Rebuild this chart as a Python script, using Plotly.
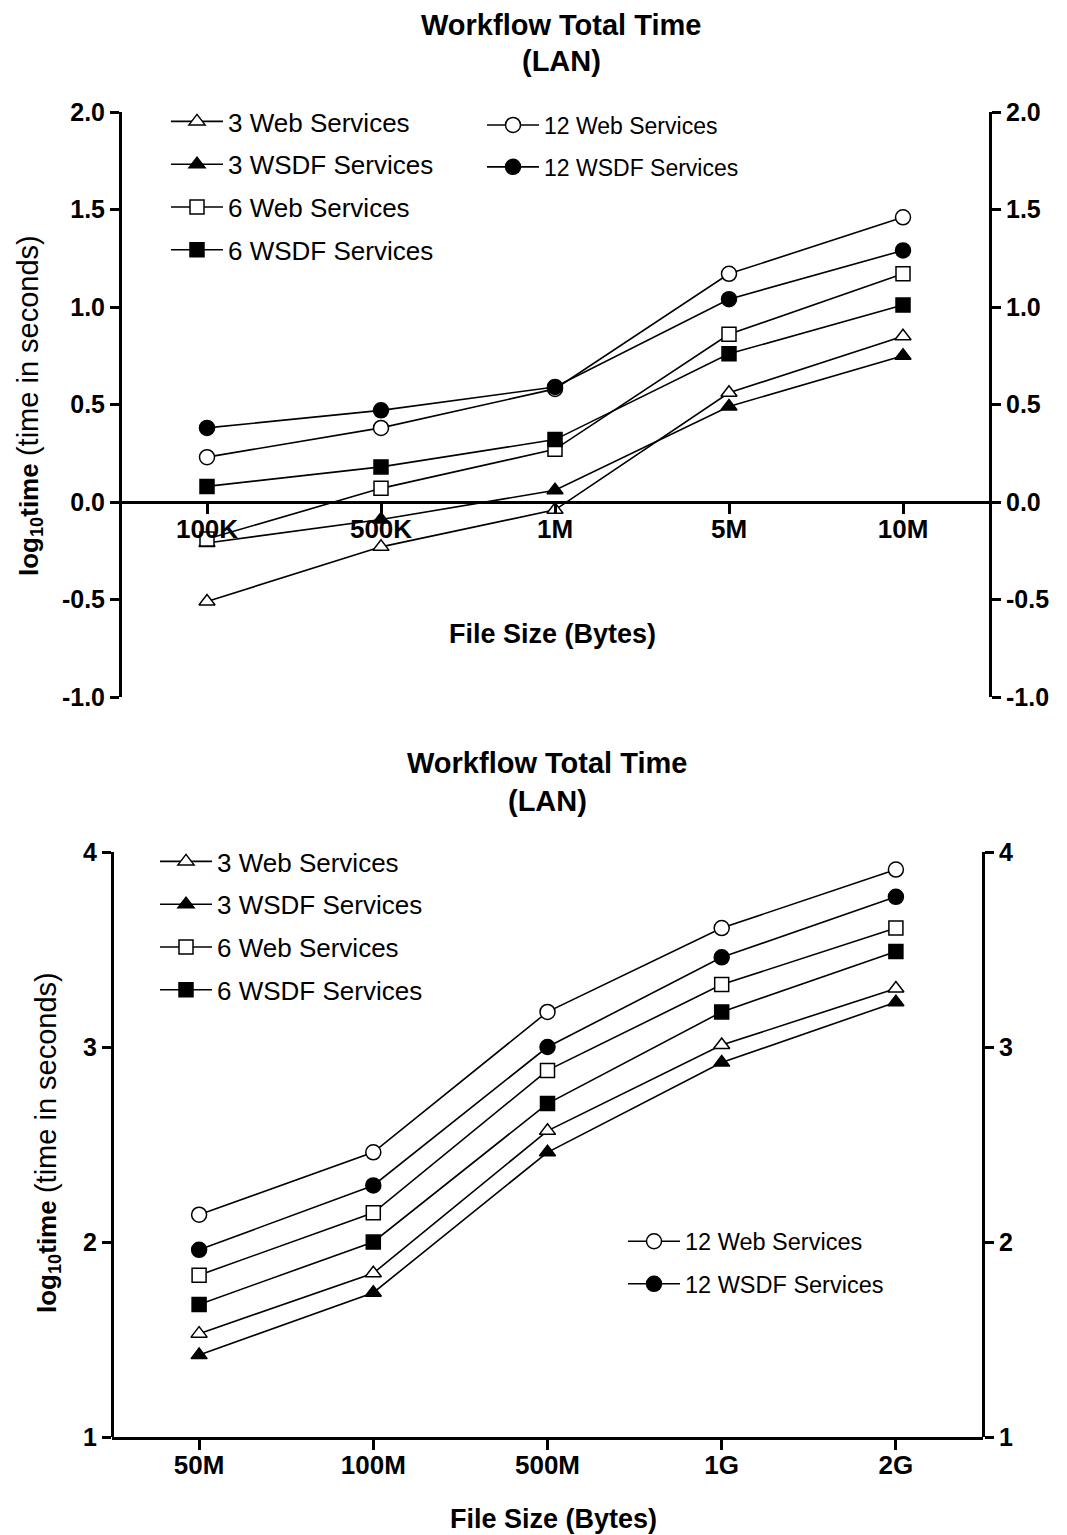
import plotly.graph_objects as go

# Browser body margin is 8px; build the figure so that it fits inside it.
OFF = 8
W, H = 1067 - OFF, 1535 - OFF

# ---------------- data ----------------
top_cats = ["100K", "500K", "1M", "5M", "10M"]
top_3web = [-0.51, -0.23, -0.04, 0.56, 0.85]
top_3wsdf = [-0.21, -0.09, 0.06, 0.49, 0.75]
top_6web = [-0.19, 0.07, 0.27, 0.86, 1.17]
top_6wsdf = [0.08, 0.18, 0.32, 0.76, 1.01]
top_12web = [0.23, 0.38, 0.58, 1.17, 1.46]
top_12wsdf = [0.38, 0.47, 0.59, 1.04, 1.29]
top_tickvals = [-1.0, -0.5, 0.0, 0.5, 1.0, 1.5, 2.0]
top_ticktext = ["-1.0", "-0.5", "0.0", "0.5", "1.0", "1.5", "2.0"]

bot_cats = ["50M", "100M", "500M", "1G", "2G"]
bot_3web = [1.53, 1.84, 2.57, 3.01, 3.30]
bot_3wsdf = [1.42, 1.74, 2.46, 2.92, 3.23]
bot_6web = [1.83, 2.15, 2.88, 3.32, 3.61]
bot_6wsdf = [1.68, 2.00, 2.71, 3.18, 3.49]
bot_12web = [2.14, 2.46, 3.18, 3.61, 3.91]
bot_12wsdf = [1.96, 2.29, 3.00, 3.46, 3.77]
bot_tickvals = [1, 2, 3, 4]

series_names = ["3 Web Services", "3 WSDF Services", "6 Web Services",
                "6 WSDF Services", "12 Web Services", "12 WSDF Services"]
symbols = ["triangle-up", "triangle-up", "square", "square", "circle", "circle"]
fills = ["white", "black", "white", "black", "white", "black"]

FONT = "Arial, Liberation Sans, Helvetica, sans-serif"

def px_x(p):
    return (p - OFF) / W

def px_y(p):
    return 1 - (p - OFF) / H

fig = go.Figure()

top_vals = [top_3web, top_3wsdf, top_6web, top_6wsdf, top_12web, top_12wsdf]
bot_vals = [bot_3web, bot_3wsdf, bot_6web, bot_6wsdf, bot_12web, bot_12wsdf]

def marker(i):
    return dict(symbol=symbols[i], size=15 if symbols[i] == "circle" else 14,
                color=fills[i], line=dict(color="black", width=1.5))

for i, (name, vals) in enumerate(zip(series_names, top_vals)):
    fig.add_trace(go.Scatter(
        x=top_cats, y=vals, name=name, mode="lines+markers",
        xaxis="x", yaxis="y" if i < 4 else "y2",
        line=dict(color="black", width=1.6), marker=marker(i),
        legend="legend" if i < 4 else "legend2",
        legendgroup="t%d" % i,
    ))

for i, (name, vals) in enumerate(zip(series_names, bot_vals)):
    fig.add_trace(go.Scatter(
        x=bot_cats, y=vals, name=name, mode="lines+markers",
        xaxis="x2", yaxis="y3" if i < 4 else "y4",
        line=dict(color="black", width=1.6), marker=marker(i),
        legend="legend3" if i < 4 else "legend4",
        legendgroup="b%d" % i,
    ))

# domains (reference pixel positions)
tx0, tx1 = px_x(120), px_x(990)
ty0, ty1 = px_y(697), px_y(112)
bx0, bx1 = px_x(112), px_x(983)
by0, by1 = px_y(1437), px_y(852)

def ax(**kw):
    d = dict(showline=True, linecolor="black", linewidth=3,
             ticks="outside", tickcolor="black", tickwidth=3, ticklen=9,
             showgrid=False, zeroline=False, automargin=False,
             tickfont=dict(family=FONT, size=25, color="black", weight="bold"))
    d.update(kw)
    return d

xtickfont = dict(family=FONT, size=26, color="black", weight="bold")

layout = dict(
    width=W, height=H,
    template="none",
    margin=dict(l=0, r=0, t=0, b=0, pad=0),
    paper_bgcolor="white", plot_bgcolor="white",
    font=dict(family=FONT, color="black"),
    showlegend=True,
    xaxis=ax(domain=[tx0, tx1], anchor="free", position=px_y(502),
             type="category", range=[-0.5, 4.5], ticklen=10, tickfont=xtickfont,
             ticklabelstandoff=-7),
    yaxis=ax(domain=[ty0, ty1], anchor="free", position=tx0,
             range=[-1.0, 2.0], tickvals=top_tickvals, ticktext=top_ticktext),
    yaxis2=ax(domain=[ty0, ty1], anchor="free", position=tx1, overlaying="y",
              side="right", range=[-1.0, 2.0],
              tickvals=top_tickvals, ticktext=top_ticktext),
    xaxis2=ax(domain=[bx0, bx1], anchor="y3",
              type="category", range=[-0.5, 4.5], ticklen=10, tickfont=xtickfont,
              ticklabelstandoff=-7),
    yaxis3=ax(domain=[by0, by1], anchor="free", position=bx0,
              range=[1, 4], tickvals=bot_tickvals),
    yaxis4=ax(domain=[by0, by1], anchor="free", position=bx1, overlaying="y3",
              side="right", range=[1, 4], tickvals=bot_tickvals),
)

def legend_cfg(xp, yp, size, gap):
    return dict(x=px_x(xp), y=px_y(yp), xanchor="left", yanchor="top",
                bgcolor="rgba(0,0,0,0)", borderwidth=0,
                font=dict(family=FONT, size=size, color="black"),
                itemwidth=52, tracegroupgap=gap, traceorder="grouped")

layout["legend"] = legend_cfg(166, 98, 26, 6)
layout["legend2"] = legend_cfg(482, 103.5, 23, 9)
layout["legend3"] = legend_cfg(155, 838, 26, 6)
layout["legend4"] = legend_cfg(623, 1219.5, 23.5, 9)

fig.update_layout(**layout)

ann = []
def text(xp, yp, t, size, bold=True, angle=0):
    ann.append(dict(x=px_x(xp), y=px_y(yp), xref="paper", yref="paper",
                    text=t, showarrow=False, textangle=angle,
                    xanchor="center", yanchor="middle",
                    font=dict(family=FONT, size=size, color="black",
                              weight="bold" if bold else "normal")))

text(561, 25, "Workflow Total Time", 29)
text(561, 61, "(LAN)", 29)
text(552, 634, "File Size (Bytes)", 27)
text(547, 763, "Workflow Total Time", 29)
text(547, 801, "(LAN)", 29)
text(553, 1519, "File Size (Bytes)", 27)

ytitle = ("<b>log<sub>10</sub>time</b> "
          "<span style='font-size:29px;font-weight:normal'>(time in seconds)</span>")
text(30, 406, ytitle, 26, bold=False, angle=-90)
text(47, 1143, ytitle, 26, bold=False, angle=-90)

fig.update_layout(annotations=ann)

fig.write_html("out.html")
